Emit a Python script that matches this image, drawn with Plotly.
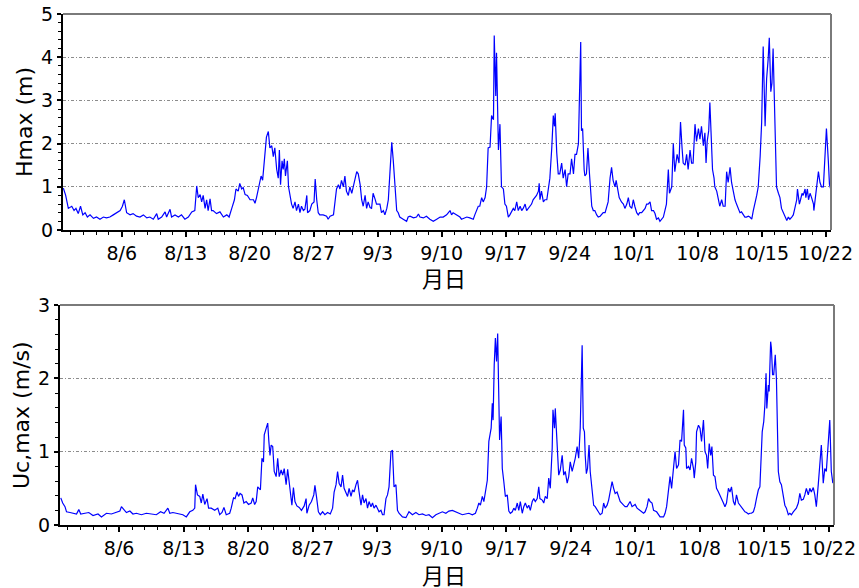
import pandas as pd
import plotly.graph_objects as go

# Hourly maxima, times in hours from 2023-08-01 00:00
hmax_hours = [
    -33, -27, -20, -11, -5, 0, 6, 12, 18, 24, 30, 37, 46, 54, 63, 72, 80, 89, 98, 107,
    116, 122, 127, 130, 133, 142, 150, 159, 168, 177, 186, 194, 203, 212, 216, 225, 234, 238, 247, 251,
    260, 269, 277, 286, 295, 304, 312, 317, 321, 326, 330, 334, 339, 343, 347, 352, 356, 360, 369, 378,
    387, 396, 402, 409, 416, 420, 426, 430, 435, 439, 444, 450, 457, 466, 470, 474, 481, 486, 490, 496,
    500, 505, 509, 514, 518, 522, 527, 531, 534, 537, 541, 544, 547, 550, 555, 558,
    566, 570, 575, 579, 584, 588, 592, 597, 601, 606, 608, 614, 619, 625, 628, 632, 636, 640, 649, 658,
    662, 667, 676, 680, 684, 689, 693, 697, 702, 706, 710, 715, 719, 724, 728, 732, 737, 741, 746, 750,
    754, 759, 763, 767, 772, 776, 780, 785, 789, 798, 802, 807, 811, 816, 820, 824, 829, 833, 837, 842,
    846, 850, 859, 868, 872, 877, 886, 894, 899, 903, 912, 920, 929, 938, 947, 956, 964, 973, 982, 986,
    990, 999, 1008, 1012, 1026, 1034, 1043, 1047, 1056, 1060, 1065, 1069, 1074, 1078, 1082, 1087, 1091, 1096, 1098, 1102,
    1104, 1109, 1113, 1117, 1122, 1126, 1130, 1135, 1139, 1148, 1152, 1157, 1161, 1166, 1170, 1174, 1179, 1183, 1187, 1196,
    1200, 1209, 1214, 1216, 1218, 1222, 1227, 1231, 1236, 1240, 1244, 1249, 1253, 1256, 1258, 1262, 1266,
    1270, 1275, 1279, 1284, 1288, 1292, 1297, 1301, 1306, 1310, 1314, 1319, 1321, 1325, 1327, 1330, 1334, 1336, 1340, 1344,
    1348, 1351, 1354, 1358, 1362, 1367, 1371, 1376, 1380, 1384, 1389, 1393, 1397, 1402, 1406, 1410, 1415, 1418, 1421, 1426,
    1432, 1437, 1441, 1446, 1450, 1454, 1459, 1463, 1467, 1472, 1476, 1480, 1485, 1489, 1494, 1498, 1502, 1507, 1511, 1516,
    1520, 1524, 1529, 1533, 1537, 1542, 1546, 1550, 1555, 1558, 1564, 1568, 1572, 1575, 1578, 1583, 1587, 1591, 1594, 1599,
    1603, 1607, 1612, 1616, 1620, 1625, 1629, 1634, 1638, 1642, 1647, 1651, 1654, 1657, 1661, 1664, 1669, 1671, 1675, 1677,
    1682, 1686, 1690, 1695, 1699, 1704, 1708, 1712, 1717, 1721, 1726, 1730, 1734, 1739, 1743, 1747, 1752, 1756, 1760, 1765,
    1769, 1774, 1778, 1782, 1787, 1791, 1793, 1796, 1800, 1804, 1809, 1813, 1817, 1820, 1824, 1827, 1830, 1835, 1839, 1844,
    1848, 1852, 1857, 1861, 1866, 1870, 1874, 1879, 1883, 1887, 1892, 1894, 1899, 1902, 1906, 1909, 1914, 1916, 1920, 1923,
    1927, 1931, 1936, 1937, 1940, 1944, 1949, 1953, 1957, 1962, 1966, 1970, 1975, 1978, 1981,
]
hmax_values = [
    0.97, 0.8, 0.5, 0.55, 0.45, 0.5, 0.38, 0.55, 0.35, 0.4, 0.3, 0.35, 0.27, 0.3, 0.25, 0.3, 0.28, 0.3, 0.35, 0.4,
    0.45, 0.55, 0.7, 0.55, 0.4, 0.35, 0.38, 0.32, 0.3, 0.35, 0.28, 0.3, 0.25, 0.38, 0.25, 0.3, 0.42, 0.3, 0.48, 0.3,
    0.35, 0.3, 0.35, 0.25, 0.3, 0.42, 0.45, 1.02, 0.75, 0.82, 0.65, 0.8, 0.5, 0.7, 0.45, 0.72, 0.45, 0.45, 0.38, 0.42,
    0.3, 0.35, 0.3, 0.5, 0.7, 0.95, 0.9, 1.08, 0.95, 0.98, 0.82, 0.8, 0.7, 0.7, 0.62, 0.75, 1.0, 1.25, 1.15, 1.7,
    2.15, 2.28, 1.9, 1.95, 1.7, 1.9, 1.4, 1.2, 1.85, 1.05, 1.6, 1.4, 1.65, 1.25, 1.6, 1.0,
    0.6, 0.5, 0.65, 0.45, 0.6, 0.4, 0.55, 0.45, 0.48, 0.8, 0.4, 0.45, 0.6, 0.65, 1.18, 0.7, 0.4, 0.35, 0.35, 0.32,
    0.25, 0.32, 0.35, 0.65, 0.95, 1.05, 0.95, 1.15, 1.0, 1.25, 0.9, 0.8, 1.0, 0.85, 1.0, 1.15, 1.35, 1.3, 1.05, 0.7,
    0.55, 0.8, 0.5, 0.65, 0.52, 0.5, 0.85, 0.72, 0.6, 0.6, 0.4, 0.45, 0.35, 0.5, 0.7, 1.3, 2.03, 1.6, 0.95, 0.45,
    0.4, 0.3, 0.25, 0.2, 0.3, 0.32, 0.28, 0.3, 0.37, 0.3, 0.28, 0.32, 0.25, 0.2, 0.25, 0.3, 0.3, 0.35, 0.45, 0.35,
    0.4, 0.35, 0.3, 0.25, 0.3, 0.28, 0.25, 0.35, 0.55, 0.55, 0.75, 0.65, 0.75, 1.0, 1.9, 1.92, 2.65, 2.55, 4.5, 3.1,
    4.1, 1.85, 2.45, 1.0, 0.95, 0.6, 0.55, 0.3, 0.35, 0.5, 0.45, 0.65, 0.45, 0.55, 0.45, 0.5, 0.6, 0.45, 0.5, 0.6,
    0.7, 0.8, 0.9, 1.08, 0.7, 0.9, 0.65, 0.7, 0.7, 1.0, 1.2, 1.9, 2.65, 2.4, 2.7, 1.8, 1.3,
    1.3, 1.55, 1.2, 1.4, 1.0, 1.3, 1.3, 1.65, 1.3, 1.75, 1.75, 2.0, 2.8, 4.35, 2.3, 2.35, 1.4, 1.25, 1.3, 1.9,
    1.3, 1.0, 0.55, 0.45, 0.45, 0.35, 0.3, 0.32, 0.35, 0.4, 0.4, 0.55, 0.65, 1.2, 1.45, 1.15, 1.0, 1.15, 0.95, 0.75,
    0.65, 0.6, 0.5, 0.6, 0.75, 0.55, 0.5, 0.7, 0.55, 0.4, 0.35, 0.4, 0.4, 0.45, 0.5, 0.6, 0.6, 0.65, 0.45, 0.45,
    0.38, 0.25, 0.28, 0.2, 0.25, 0.3, 0.45, 0.6, 1.4, 0.85, 1.0, 2.0, 1.35, 1.55, 1.75, 1.55, 2.5, 1.9, 1.55, 1.5,
    1.75, 1.4, 1.85, 1.55, 1.55, 2.45, 2.05, 2.35, 2.1, 2.4, 1.95, 2.25, 1.55, 2.05, 2.3, 2.95, 1.95, 1.4, 1.2, 1.0,
    0.9, 0.7, 0.55, 0.7, 0.55, 0.55, 1.35, 1.1, 1.45, 1.1, 0.85, 0.7, 0.6, 0.5, 0.4, 0.42, 0.35, 0.3, 0.3, 0.32,
    0.3, 0.25, 0.45, 0.65, 0.8, 1.0, 1.45, 1.7, 2.5, 4.25, 2.4, 3.5, 3.95, 4.45, 3.2, 3.4, 4.2, 2.0, 1.0, 0.85,
    0.75, 0.5, 0.4, 0.3, 0.22, 0.3, 0.25, 0.3, 0.35, 0.5, 0.7, 0.95, 0.6, 0.7, 0.85, 0.8, 0.95, 0.75, 0.95, 0.7,
    0.85, 0.75, 0.6, 0.45, 0.7, 0.9, 1.35, 1.1, 1.0, 1.0, 1.55, 2.35, 1.6, 1.05, 0.95,
]

ucmax_hours = [
    -32, -27, -21, -17, -8, 0, 9, 15, 20, 31, 41, 52, 65, 74, 87, 100, 113, 122, 126, 133,
    139, 148, 156, 165, 178, 191, 204, 217, 228, 237, 247, 252, 260, 273, 286, 295, 304, 312, 317, 319,
    324, 330, 334, 338, 343, 349, 353, 360, 369, 377, 382, 388, 393, 399, 408, 412, 418, 422, 427, 431,
    435, 440, 445, 451, 457, 464, 468, 473, 477, 481, 486, 488, 492, 496, 498, 503, 507, 510, 513, 516,
    520, 524, 529, 533, 537,
    542, 546, 550, 555, 559, 565, 570, 574, 578, 583, 589, 595, 602, 607, 609, 615, 621, 627, 630, 634,
    639, 644, 650, 656, 663, 670, 676, 680, 685, 689, 693, 698, 702, 706, 711, 715, 719, 724, 728, 732,
    737, 741, 745, 750, 754, 758, 763, 767, 771, 776, 780, 784, 789, 793, 797, 802, 806, 810, 815, 819,
    823, 828, 832, 836, 841, 845, 849, 858, 867, 875, 884, 893, 901, 910, 919, 927, 936, 945, 953, 962,
    971, 979, 988, 997, 1005, 1014, 1022, 1031, 1040, 1048, 1053, 1057, 1061, 1066, 1070, 1074, 1079, 1083, 1086, 1089,
    1092, 1094, 1097, 1100, 1103, 1106, 1108, 1111, 1115, 1118, 1122, 1126, 1131, 1135, 1139, 1144, 1148, 1152, 1157, 1161,
    1165, 1170, 1174, 1178, 1183, 1187, 1191, 1196, 1200, 1204, 1209, 1213, 1216, 1222, 1226, 1230, 1235, 1239, 1243, 1248,
    1250, 1254, 1256, 1261, 1265,
    1269, 1274, 1278, 1282, 1287, 1291, 1295, 1300, 1304, 1308, 1313, 1317, 1321, 1324, 1326, 1329, 1332, 1334, 1337, 1340,
    1344, 1347, 1352, 1356, 1360, 1365, 1369, 1373, 1378, 1382, 1386, 1391, 1395, 1399, 1404, 1408, 1412, 1417, 1421, 1425,
    1434, 1438, 1443, 1447, 1451, 1456, 1460, 1464, 1469, 1477, 1486, 1490, 1495, 1499, 1503, 1508, 1512, 1520, 1525, 1529,
    1538, 1542, 1546, 1551, 1555, 1559, 1564, 1568, 1572, 1577, 1581, 1585, 1590, 1592, 1596, 1598, 1603, 1607, 1611, 1616,
    1618, 1622, 1624, 1629, 1633, 1637, 1642, 1646, 1650, 1653, 1657, 1661, 1664, 1668, 1672, 1676, 1681, 1685, 1689, 1694,
    1698, 1702, 1707, 1711, 1715, 1720, 1724, 1728, 1733, 1737, 1741, 1746, 1750, 1754, 1759, 1763, 1767, 1772, 1776, 1780,
    1785, 1789, 1792, 1795, 1799, 1802, 1805, 1807, 1811, 1813, 1817, 1819, 1822, 1825, 1829, 1832, 1837, 1841, 1845, 1850,
    1854, 1858, 1863, 1867, 1871, 1876, 1880, 1884, 1889, 1893, 1897, 1902, 1906, 1910, 1915, 1919, 1923, 1928, 1932, 1936,
    1941, 1945, 1949, 1954, 1958, 1962, 1967, 1971, 1975, 1979,
]
ucmax_values = [
    0.37, 0.3, 0.25, 0.18, 0.17, 0.16, 0.15, 0.21, 0.15, 0.16, 0.17, 0.13, 0.15, 0.11, 0.16, 0.15, 0.17, 0.19, 0.25, 0.2,
    0.17, 0.19, 0.15, 0.16, 0.14, 0.16, 0.15, 0.14, 0.18, 0.16, 0.23, 0.16, 0.17, 0.15, 0.14, 0.11, 0.18, 0.2, 0.23, 0.55,
    0.41, 0.39, 0.3, 0.42, 0.28, 0.36, 0.23, 0.23, 0.2, 0.23, 0.14, 0.17, 0.24, 0.14, 0.16, 0.23, 0.37, 0.36, 0.45, 0.39,
    0.43, 0.41, 0.3, 0.32, 0.28, 0.3, 0.37, 0.28, 0.32, 0.52, 0.5, 0.48, 0.91, 0.86, 1.23, 1.34, 1.39, 1.14, 0.95, 1.09,
    1.07, 0.73, 0.66, 0.91, 0.66,
    0.75, 0.68, 0.77, 0.55, 0.76, 0.45, 0.27, 0.51, 0.32, 0.26, 0.24, 0.2, 0.26, 0.36, 0.16, 0.27, 0.32, 0.41, 0.54, 0.39,
    0.18, 0.14, 0.18, 0.14, 0.17, 0.15, 0.23, 0.45, 0.55, 0.73, 0.57, 0.52, 0.68, 0.5, 0.45, 0.39, 0.5, 0.39, 0.48, 0.45,
    0.55, 0.61, 0.45, 0.27, 0.41, 0.3, 0.36, 0.23, 0.32, 0.25, 0.3, 0.23, 0.27, 0.23, 0.18, 0.2, 0.14, 0.14, 0.36, 0.41,
    0.52, 1.0, 1.02, 0.52, 0.55, 0.2, 0.16, 0.11, 0.1, 0.18, 0.14, 0.17, 0.14, 0.15, 0.13, 0.14, 0.1, 0.14, 0.16, 0.18,
    0.16, 0.19, 0.2, 0.18, 0.16, 0.14, 0.15, 0.16, 0.14, 0.16, 0.23, 0.3, 0.27, 0.39, 0.32, 0.45, 0.61, 1.14, 1.23, 1.32,
    1.66, 1.43, 2.18, 2.55, 2.23, 2.61, 2.0, 1.16, 1.48, 0.77, 0.59, 0.39, 0.41, 0.19, 0.16, 0.18, 0.23, 0.2, 0.3, 0.2,
    0.32, 0.16, 0.25, 0.3, 0.23, 0.27, 0.2, 0.32, 0.36, 0.32, 0.36, 0.52, 0.36, 0.34, 0.3, 0.39, 0.36, 0.64, 0.5, 1.05,
    1.57, 1.32, 1.59, 1.14, 0.68,
    0.75, 0.95, 0.68, 0.73, 0.57, 0.66, 0.86, 0.73, 0.82, 0.91, 1.07, 0.91, 1.32, 2.0, 2.45, 1.32, 1.27, 0.95, 0.7, 0.77,
    1.09, 0.73, 0.41, 0.27, 0.25, 0.2, 0.16, 0.14, 0.16, 0.3, 0.23, 0.27, 0.34, 0.45, 0.59, 0.5, 0.43, 0.45, 0.39, 0.32,
    0.27, 0.25, 0.25, 0.28, 0.32, 0.25, 0.27, 0.28, 0.23, 0.2, 0.16, 0.18, 0.25, 0.36, 0.32, 0.3, 0.2, 0.18, 0.14, 0.11,
    0.11, 0.16, 0.25, 0.45, 0.66, 0.5, 0.73, 1.0, 0.77, 0.82, 1.16, 1.14, 1.57, 1.09, 1.05, 0.77, 0.8, 0.75, 0.91, 0.77,
    0.64, 0.86, 1.27, 1.36, 1.32, 1.14, 1.43, 1.0, 0.95, 0.77, 1.11, 0.95, 1.07, 0.68, 0.66, 0.5, 0.45, 0.41, 0.36, 0.3,
    0.25, 0.3, 0.5, 0.45, 0.52, 0.32, 0.27, 0.41, 0.3, 0.27, 0.23, 0.2, 0.18, 0.17, 0.15, 0.16, 0.16, 0.18, 0.25, 0.36,
    0.48, 0.52, 0.95, 1.27, 1.41, 1.64, 2.07, 1.59, 1.91, 1.82, 2.5, 2.41, 2.05, 2.05, 2.32, 2.0, 0.73, 0.59, 0.55, 0.41,
    0.27, 0.23, 0.14, 0.16, 0.14, 0.18, 0.2, 0.23, 0.3, 0.43, 0.34, 0.35, 0.41, 0.5, 0.41, 0.5, 0.45, 0.51, 0.41, 0.25,
    0.55, 0.82, 1.09, 0.57, 0.77, 0.73, 1.2, 1.43, 0.73, 0.57,
]

week_ticks = ["8/6", "8/13", "8/20", "8/27", "9/3", "9/10", "9/17", "9/24", "10/1", "10/8", "10/15", "10/22"]

origin = pd.Timestamp("2023-08-01 00:00")
t_h = origin + pd.to_timedelta(hmax_hours, unit="h")
t_u = origin + pd.to_timedelta(ucmax_hours, unit="h")
tick_vals = [pd.Timestamp(f"2023-{s.replace('/', '-')}") for s in week_ticks]

FONT = "DejaVu Sans, Noto Sans CJK JP, sans-serif"
DAY_MS = 86400000
x_range = ["2023-07-30 14:00", "2023-10-22 14:00"]

fig = go.Figure()
fig.add_trace(go.Scatter(x=t_h, y=hmax_values, mode="lines",
                         line=dict(color="#0000ff", width=1.2), xaxis="x", yaxis="y",
                         showlegend=False))
fig.add_trace(go.Scatter(x=t_u, y=ucmax_values, mode="lines",
                         line=dict(color="#0000ff", width=1.2), xaxis="x2", yaxis="y2",
                         showlegend=False))

GRID_DASH = "3px,2px,1px,2px"

def xaxis_style(domain, anchor):
    return dict(
        domain=domain, anchor=anchor, type="date", range=x_range, automargin=False,
        tickmode="array", tickvals=tick_vals, ticktext=week_ticks,
        ticks="outside", ticklen=5, tickwidth=2, tickcolor="black",
        showline=True, linecolor="black", linewidth=2,
        showgrid=False, zeroline=False,
        tickfont=dict(family=FONT, size=19, color="black"),
        minor=dict(tickmode="linear", tick0="2023-08-06", dtick=1.4 * DAY_MS,
                   ticks="outside", ticklen=3, tickwidth=1, tickcolor="black",
                   showgrid=False),
    )

def yaxis_style(domain, anchor, top):
    return dict(
        domain=domain, anchor=anchor, range=[0, top], dtick=1, tick0=0, automargin=False,
        ticks="outside", ticklen=4, tickwidth=2, tickcolor="black",
        showline=True, linecolor="black", linewidth=2,
        showgrid=True, gridcolor="#8c8c8c", gridwidth=1, griddash=GRID_DASH,
        zeroline=False,
        tickfont=dict(family=FONT, size=19, color="black"),
        minor=dict(dtick=0.2, ticks="outside", ticklen=3, tickwidth=1,
                   tickcolor="black", showgrid=False),
    )

W, H = 859, 588
fig.update_layout(
    width=W, height=H,
    margin=dict(l=0, r=0, t=0, b=0, autoexpand=False),
    paper_bgcolor="white", plot_bgcolor="white",
    xaxis=xaxis_style([63 / W, 831 / W], "y"),
    yaxis=yaxis_style([1 - 230 / H, 1 - 14 / H], "x", 5),
    xaxis2=xaxis_style([60 / W, 834 / W], "y2"),
    yaxis2=yaxis_style([1 - 525 / H, 1 - 305 / H], "x2", 3),
)

# grey top/right frame edges
for xr, yr in (("x domain", "y domain"), ("x2 domain", "y2 domain")):
    fig.add_shape(type="line", xref=xr, yref=yr, x0=0, x1=1, y0=1, y1=1,
                  line=dict(color="#7a7a7a", width=2))
    fig.add_shape(type="line", xref=xr, yref=yr, x0=1, x1=1, y0=0, y1=1,
                  line=dict(color="#7a7a7a", width=2))

title_font = dict(family=FONT, size=22, color="black")
for text, xp, yp, angle in (
    ("Hmax (m)", 24, 122, -90),
    ("Uc,max (m/s)", 22, 415, -90),
    ("月日", 444, 279, 0),
    ("月日", 444, 576, 0),
):
    fig.add_annotation(text=text, textangle=angle, xref="paper", yref="paper",
                       x=xp / W, y=1 - yp / H, xanchor="center", yanchor="middle",
                       showarrow=False, font=title_font)

fig.write_html("out.html")
